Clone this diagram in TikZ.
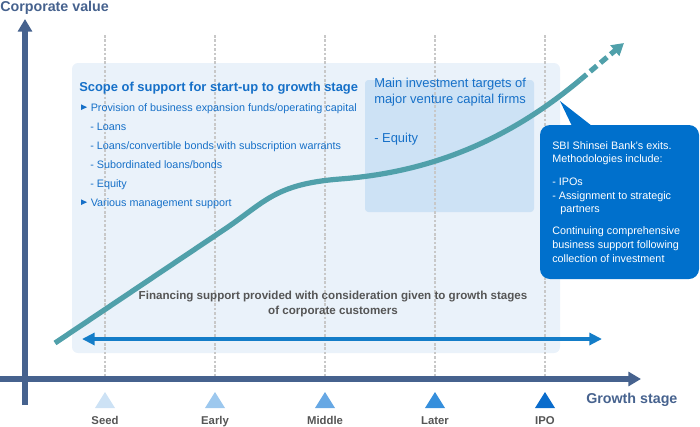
\documentclass[tikz,border=0pt]{standalone}
\usepackage{fontspec}
\setmainfont{Liberation Sans}
\usetikzlibrary{arrows.meta}

\definecolor{axisblue}{RGB}{70,98,142}
\definecolor{dotgrey}{RGB}{200,200,200}
\definecolor{boxpale}{RGB}{234,242,250}
\definecolor{boxmid}{RGB}{205,226,245}
\definecolor{textblue}{RGB}{22,112,200}
\definecolor{calloutblue}{RGB}{0,112,204}
\definecolor{curveteal}{RGB}{80,160,170}
\definecolor{finblue}{RGB}{20,125,200}
\definecolor{labelgrey}{RGB}{85,85,85}
\definecolor{seedcol}{RGB}{205,226,245}
\definecolor{earlycol}{RGB}{157,200,238}
\definecolor{middlecol}{RGB}{103,168,228}
\definecolor{latercol}{RGB}{54,143,220}
\definecolor{ipocol}{RGB}{10,108,204}

\begin{document}
\begin{tikzpicture}[x=0.75pt,y=0.75pt,yscale=-1,xscale=1,
    axisline/.style={draw=axisblue, line width=3.9pt},
    stageline/.style={draw=dotgrey, line width=2pt, dash pattern=on 2pt off 1.3pt},
    axistitle/.style={text=axisblue, font=\fontsize{10.7}{12}\selectfont\bfseries, inner sep=0pt},
    stagelabel/.style={text=labelgrey, font=\fontsize{8.5}{10}\selectfont\bfseries, inner sep=0pt, anchor=base},
    listtext/.style={text=textblue, font=\fontsize{8.1}{9}\selectfont, inner sep=0pt, anchor=base west},
    bulletmark/.style={fill=textblue},
    whitetext/.style={text=white, font=\fontsize{8.1}{10.3}\selectfont, inner sep=0pt, anchor=base west}]
    \path[use as bounding box] (0,0) rectangle (700,426);

    %Shape: Rectangle [id:scope box]
    \fill[boxpale, rounded corners=4.5pt] (72,63) rectangle (560,353);
    %Shape: Rectangle [id:vc box]
    \fill[boxmid, rounded corners=2.5pt] (365,80) rectangle (534,212);

    %Straight Lines [id:stage lines]
    \foreach \sx in {105,215,325,435,545}
      \draw[stageline] (\sx,35) -- (\sx,377);

    %Straight Lines [id:axes]
    \coordinate (yfoot) at (25,405);
    \coordinate (ytip) at (25,19);
    \coordinate (xfoot) at (0,379);
    \coordinate (xtip) at (641,379);
    \draw[axisline, -{Triangle[length=9.5pt, width=10.5pt]}] (yfoot) -- (ytip);
    \draw[axisline, -{Triangle[length=9.5pt, width=10.5pt]}] (xfoot) -- (xtip);

    % Text Node
    \node (corpval) at (0,11.5) [axistitle, anchor=base west] {Corporate value};
    % Text Node
    \node (growth) at (586,403) [axistitle, anchor=base west] {Growth stage};

    %Shape: Triangles [id:stage marks]
    \foreach \sx/\scol/\sname in {105/seedcol/Seed,215/earlycol/Early,325/middlecol/Middle,435/latercol/Later,545/ipocol/IPO}{
      \fill[\scol] (\sx-10,408) -- (\sx,392) -- (\sx+10,408) -- cycle;
      \node (stage\sname) at (\sx,424) [stagelabel] {\sname};
    }

    % Text Node
    \node (scopetitle) at (79,91) [listtext, font=\fontsize{9.7}{10}\selectfont\bfseries] {Scope of support for start-up to growth stage};
    %Shape: Triangle [id:bullet 1]
    \fill[bulletmark] (81,104.3) -- (87,107.2) -- (81,110) -- cycle;
    % Text Node
    \node (provision) at (90.5,111.7) [listtext] {Provision of business expansion funds/operating capital};
    % Text Node
    \node (loans) at (90,130.7) [listtext] {- Loans};
    % Text Node
    \node (convertible) at (90,149.7) [listtext] {- Loans/convertible bonds with subscription warrants};
    % Text Node
    \node (subordinated) at (90,168.7) [listtext] {- Subordinated loans/bonds};
    % Text Node
    \node (equity) at (90,187.7) [listtext] {- Equity};
    %Shape: Triangle [id:bullet 2]
    \fill[bulletmark] (81,199.3) -- (87,202.2) -- (81,205) -- cycle;
    % Text Node
    \node (management) at (90.5,206.7) [listtext] {Various management support};

    % Text Node
    \node (vctargets) at (374,103.3) [listtext, font=\fontsize{9.7}{12}\selectfont, align=left] {Main investment targets of\\major venture capital firms};
    % Text Node
    \node (vcequity) at (374,142.7) [listtext, font=\fontsize{9.7}{12}\selectfont] {- Equity};

    %Shape: Callout [id:exits]
    \fill[calloutblue, rounded corners=7.5pt] (540,125) rectangle (699,279);
    \coordinate (pointer) at (560,101);
    \fill[calloutblue] (572,126) -- (pointer) -- (592,126) -- cycle;
    % Text Node
    \node (exits1) at (552,149.3) [whitetext] {SBI Shinsei Bank's exits.};
    \node (exits2) at (552,162.7) [whitetext] {Methodologies include:};
    \node (exits3) at (552,185) [whitetext] {- IPOs};
    \node (exits4) at (552,199) [whitetext] {- Assignment to strategic};
    \node (exits5) at (560,212.3) [whitetext] {partners};
    \node (exits6) at (552,234.3) [whitetext] {Continuing comprehensive};
    \node (exits7) at (552,248.3) [whitetext] {business support following};
    \node (exits8) at (552,262.7) [whitetext] {collection of investment};

    % Text Node
    \node (financing) at (333,314) [text=labelgrey, font=\fontsize{8.7}{11.2}\selectfont\bfseries, inner sep=0pt, anchor=base, align=center] {Financing support provided with consideration given to growth stages\\of corporate customers};
    %Straight Lines [id:financing arrow]
    \coordinate (finL) at (82,339);
    \coordinate (finR) at (602,339);
    \draw[finblue, line width=3pt, {Triangle[length=9.5pt, width=9pt]}-{Triangle[length=9.5pt, width=9pt]}] (finL) -- (finR);

    %Curve Lines [id:corporate value curve]
    \coordinate (cstart) at (55,343);
    \coordinate (cend) at (580,80);
    \coordinate (ctip) at (624,43);
    \draw[curveteal, line width=3.9pt] (cstart) -- (225,229) .. controls (265,202) and (275,184) .. (340,179) .. controls (420,173) and (500,147) .. (cend);
    \draw[curveteal, line width=3.9pt, dash pattern=on 6.5pt off 3.5pt, -{Triangle[length=9pt, width=10pt]}] (cend) -- (ctip);
\end{tikzpicture}
\end{document}
